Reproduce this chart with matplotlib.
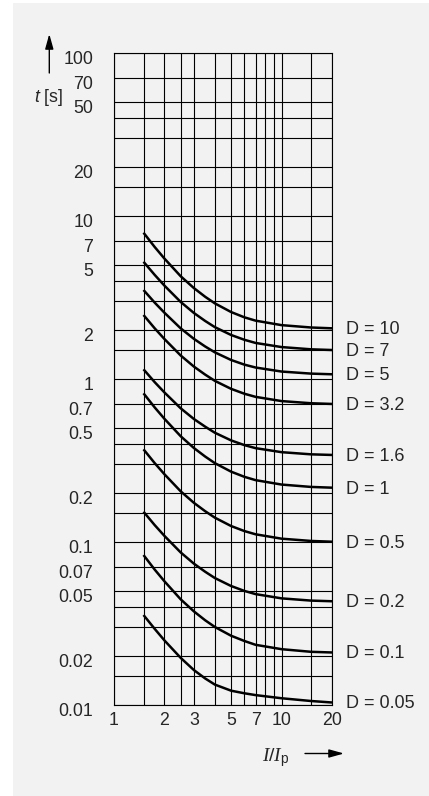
import matplotlib
matplotlib.use("Agg")
import matplotlib.pyplot as plt
from matplotlib.ticker import NullFormatter
from matplotlib.patches import Rectangle
from matplotlib.transforms import ScaledTranslation

plt.rcParams['font.family'] = ['Liberation Sans', 'DejaVu Sans']
plt.rcParams['mathtext.fontset'] = 'custom'
plt.rcParams['mathtext.rm'] = 'Liberation Sans'
plt.rcParams['mathtext.it'] = 'Liberation Serif:italic'
plt.rcParams['mathtext.sf'] = 'Liberation Sans:italic'

# ---- data, t in s for each I/Ip value
x_pts = [1.5, 1.75, 2, 2.5, 3, 3.5, 4, 5, 6, 7, 10, 15, 20]

t_D10 = [7.90, 6.45, 5.48, 4.27, 3.61, 3.195, 2.91, 2.575, 2.39, 2.28, 2.14, 2.07, 2.046]
t_D7 = [5.24, 4.35, 3.74, 2.97, 2.54, 2.27, 2.08, 1.862, 1.74, 1.664, 1.57, 1.521, 1.506]
t_D5 = [3.516, 2.94, 2.55, 2.045, 1.762, 1.583, 1.457, 1.308, 1.225, 1.176, 1.111, 1.079, 1.069]
t_D32 = [2.47, 2.045, 1.759, 1.394, 1.191, 1.064, 0.974, 0.870, 0.812, 0.777, 0.732, 0.710, 0.703]
t_D16 = [1.147, 0.956, 0.827, 0.661, 0.568, 0.510, 0.468, 0.420, 0.393, 0.3765, 0.3557, 0.345, 0.342]
t_D1 = [0.817, 0.669, 0.570, 0.4455, 0.377, 0.3344, 0.3046, 0.2701, 0.2511, 0.2396, 0.2251, 0.2177, 0.2154]
t_D05 = [0.3704, 0.3046, 0.2604, 0.2046, 0.1738, 0.1545, 0.1410, 0.1253, 0.1167, 0.1115, 0.1048, 0.1015, 0.1004]
t_D02 = [0.1534, 0.1269, 0.1090, 0.0863, 0.0736, 0.0657, 0.0601, 0.0537, 0.0501, 0.0479, 0.0451, 0.0437, 0.0433]
t_D01 = [0.0832, 0.0677, 0.0574, 0.0445, 0.0375, 0.0331, 0.0301, 0.0266, 0.0247, 0.0234, 0.0220, 0.0212, 0.0210]
t_D005 = [0.03565, 0.0293, 0.0249, 0.01946, 0.01637, 0.01455, 0.01334, 0.01224, 0.0118, 0.0115, 0.0110, 0.01058, 0.01036]

curves = [t_D10, t_D7, t_D5, t_D32, t_D16, t_D1, t_D05, t_D02, t_D01, t_D005]
curve_labels = ['D = 10', 'D = 7', 'D = 5', 'D = 3.2', 'D = 1.6', 'D = 1',
                'D = 0.5', 'D = 0.2', 'D = 0.1', 'D = 0.05']

x_grid = [1, 1.5, 2, 2.5, 3, 4, 5, 6, 7, 8, 9, 10, 15, 20]
x_ticks = [1, 2, 3, 5, 7, 10, 20]
x_ticklabels = ['1', '2', '3', '5', '7', '10', '20']

y_grid = [0.01, 0.015, 0.02, 0.03, 0.04, 0.05, 0.07,
          0.1, 0.15, 0.2, 0.3, 0.4, 0.5, 0.7,
          1, 1.5, 2, 3, 4, 5, 7,
          10, 15, 20, 30, 40, 50, 70, 100]
y_ticks = [0.01, 0.02, 0.05, 0.07, 0.1, 0.2, 0.5, 0.7, 1, 2, 5, 7, 10, 20, 50, 70, 100]
y_ticklabels = ['0.01', '0.02', '0.05', '0.07', '0.1', '0.2', '0.5', '0.7',
                '1', '2', '5', '7', '10', '20', '50', '70', '100']

bg = '#f2f2f2'
txt = '#262626'
fs = 12.8

fig = plt.figure(figsize=(4.29, 7.96), dpi=100)
fig.patch.set_facecolor('white')
fig.patches.append(Rectangle((13 / 429, 0), 1 - 13 / 429, 1 - 3 / 796,
                             transform=fig.transFigure, facecolor=bg,
                             edgecolor='none', zorder=-10))

ax = fig.add_axes([114 / 429, 1 - 705 / 796, 218 / 429, 652 / 796])
ax.set_facecolor(bg)
ax.set_xscale('log')
ax.set_yscale('log')
ax.set_xlim(1, 20)
ax.set_ylim(0.01, 100)

# grid
for gx in x_grid:
    ax.axvline(gx, color='black', lw=0.8, zorder=1)
for gy in y_grid:
    ax.axhline(gy, color='black', lw=0.8, zorder=1)

# curves
for t_vals, lab in zip(curves, curve_labels):
    ax.plot(x_pts, t_vals, color='black', lw=1.8, zorder=3,
            solid_capstyle='butt', solid_joinstyle='round')
    ax.annotate(lab, xy=(x_pts[-1], t_vals[-1]), xytext=(10, -1),
                textcoords='offset points', va='center', ha='left',
                fontsize=13, color=txt, annotation_clip=False)

for s in ax.spines.values():
    s.set_linewidth(0.8)
    s.set_color('black')

ax.set_xticks(x_ticks)
ax.set_xticklabels(x_ticklabels)
ax.set_yticks(y_ticks)
ax.set_yticklabels(y_ticklabels)
ax.xaxis.set_minor_formatter(NullFormatter())
ax.yaxis.set_minor_formatter(NullFormatter())
ax.tick_params(which='both', length=0, labelsize=fs, labelcolor=txt)
ax.tick_params(axis='y', pad=15)
ax.tick_params(axis='x', pad=5)
off = ScaledTranslation(0, -3 / 72, fig.dpi_scale_trans)
for lab in ax.get_yticklabels():
    lab.set_transform(lab.get_transform() + off)

# axis titles and arrows
fig.text(49 / 429, 1 - 98 / 796, r'$\mathsf{t}$ [s]', ha='center', va='center',
         fontsize=fs, color=txt)
ax.annotate('', xy=(49.3 / 429, 1 - 34 / 796), xytext=(49.3 / 429, 1 - 73 / 796),
            xycoords='figure fraction', textcoords='figure fraction',
            arrowprops=dict(arrowstyle='-|>,head_length=0.9,head_width=0.25',
                            color='black', lw=1.0, mutation_scale=10,
                            shrinkA=0, shrinkB=0))
fig.text(276 / 429, 1 - 758 / 796, r'$I/I_\mathrm{p}$', ha='center', va='center',
         fontsize=14, color=txt)
ax.annotate('', xy=(344 / 429, 1 - 753.5 / 796), xytext=(305 / 429, 1 - 753.5 / 796),
            xycoords='figure fraction', textcoords='figure fraction',
            arrowprops=dict(arrowstyle='-|>,head_length=0.9,head_width=0.25',
                            color='black', lw=1.0, mutation_scale=10,
                            shrinkA=0, shrinkB=0))

fig.savefig('out.png', dpi=100, facecolor=fig.get_facecolor())
